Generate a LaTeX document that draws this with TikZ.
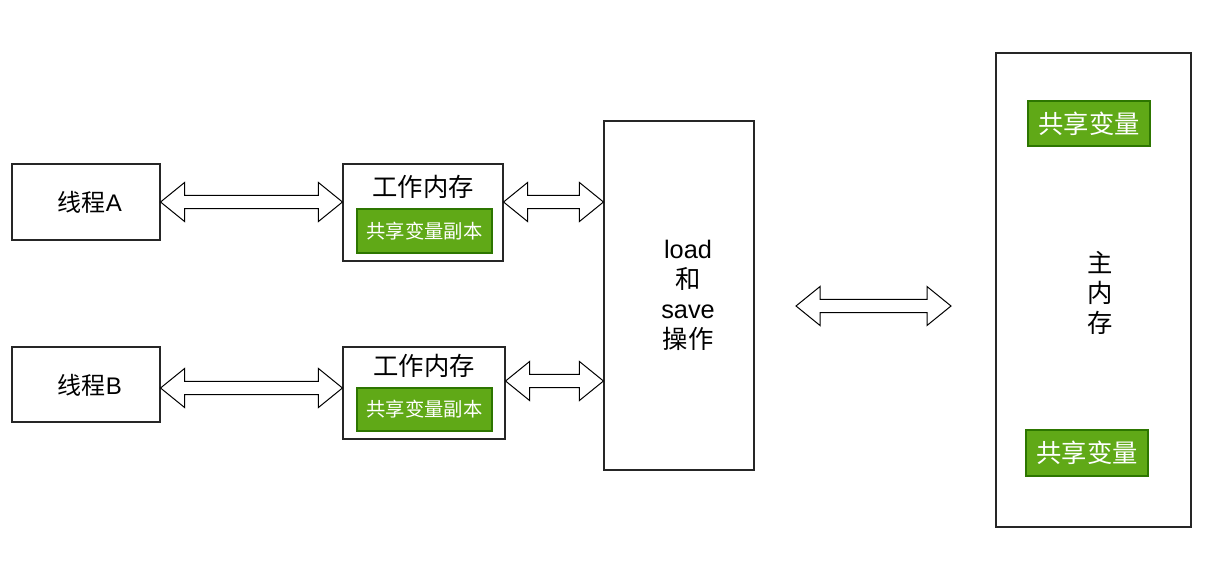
\documentclass[tikz,border=0pt]{standalone}
\usepackage{fontspec}
\setmainfont{Liberation Sans}
\newfontfamily\cjk{Noto Sans CJK SC}
\usepackage{tikz}
\usetikzlibrary{calc,positioning}
\definecolor{copygreen}{RGB}{96,169,23}
\definecolor{copyedge}{RGB}{45,118,0}
\tikzset{
box/.style={draw=black!85, line width=0.8pt, fill=white, inner sep=0pt}, % plain boxes
greenbox/.style={draw=copyedge, line width=0.8pt, fill=copygreen, text=white, inner sep=0pt},
bigtext/.style={font=\fontsize{19}{22.5}\selectfont, align=center},
smalltext/.style={font=\fontsize{14.5}{17}\selectfont},
blockarrow/.style={draw=black, line width=0.75pt, fill=white, line join=miter},
}
% hollow double arrow between two points
\newcommand{\blockarrow}[2]{%
  \draw[blockarrow] let \p1=(#1), \p2=(#2) in
    (\x1,\y1) -- (\x1+18pt,\y1+14.6pt) -- (\x1+18pt,\y1+4.9pt) -- (\x2-18pt,\y2+4.9pt)
    -- (\x2-18pt,\y2+14.6pt) -- (\x2,\y2) -- (\x2-18pt,\y2-14.6pt) -- (\x2-18pt,\y2-4.9pt)
    -- (\x1+18pt,\y1-4.9pt) -- (\x1+18pt,\y1-14.6pt) -- cycle;}

\begin{document}
\begin{tikzpicture}[x=0.75pt,y=0.75pt,yscale=-1,xscale=1]
\useasboundingbox (0,0) rectangle (1227,567);
%Threads
\node[box, minimum width=111pt, minimum height=57pt] (threadA) at (86,202) {};
\node[bigtext, font=\fontsize{18}{21}\selectfont] (threadAtxt) at (90,202) {{\cjk 线程}A};
\node[box, minimum width=111pt, minimum height=56.25pt] (threadB) at (86,384.5) {};
\node[bigtext, font=\fontsize{18}{21}\selectfont] (threadBtxt) at (90,385) {{\cjk 线程}B};
%Working memory A
\node[box, minimum width=120pt, minimum height=72.75pt] (memA) at (423,212.5) {};
\node[bigtext] (titleA) at (423,187) {\cjk 工作内存};
\node[greenbox, smalltext, minimum width=101.25pt, minimum height=33pt] (copyA) at (424.5,231) {\cjk 共享变量副本};
%Working memory B
\node[box, minimum width=121.5pt, minimum height=69pt] (memB) at (424,393) {};
\node[bigtext] (titleB) at (424,366) {\cjk 工作内存};
\node[greenbox, smalltext, minimum width=101.25pt, minimum height=32.25pt] (copyB) at (424.5,409.5) {\cjk 共享变量副本};
%load / save
\node[box, minimum width=112.5pt, minimum height=261.75pt] (loadbox) at (679,295.5) {};
\node[bigtext] (loadtxt) at (688,295) {load\\{\cjk 和}\\save\\{\cjk 操作}};
%Main memory
\node[box, minimum width=146.25pt, minimum height=355.5pt] (mainmem) at (1093.5,290) {};
\node[bigtext] (maintxt) at (1100,293) {\cjk 主\\\cjk 内\\\cjk 存};
\node[greenbox, bigtext, minimum width=91.5pt, minimum height=33.75pt] (varTop) at (1089,123.5) {\cjk 共享变量};
\node[greenbox, bigtext, minimum width=91.5pt, minimum height=34.5pt] (varBot) at (1087,453) {\cjk 共享变量};
%Arrow rows
\coordinate (rowA) at (0,202);
\coordinate (rowB) at (0,388);
\coordinate (rowB2) at (0,381);
\coordinate (busL) at (796,306);
\coordinate (busR) at (951,306);
\blockarrow{threadA.east |- rowA}{memA.west |- rowA}
\blockarrow{memA.east |- rowA}{loadbox.west |- rowA}
\blockarrow{threadB.east |- rowB}{memB.west |- rowB}
\blockarrow{memB.east |- rowB2}{loadbox.west |- rowB2}
\blockarrow{busL}{busR}
\end{tikzpicture}
\end{document}
